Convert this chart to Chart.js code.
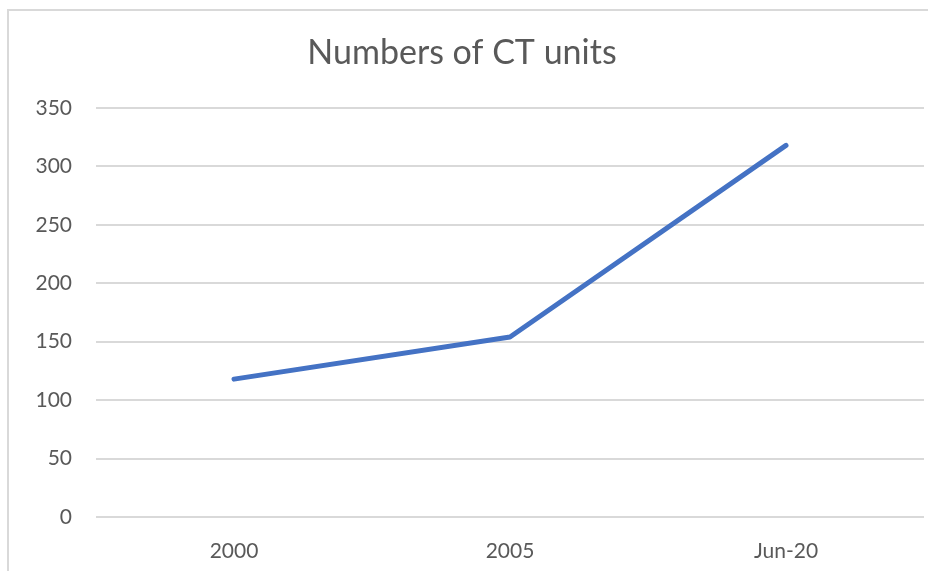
<!DOCTYPE html>
<html>
<head>
<meta charset="utf-8">
<script src="https://cdn.jsdelivr.net/npm/chart.js@4/dist/chart.umd.min.js"></script>
<style>
html,body{margin:0;padding:0;background:#fff;overflow:hidden;}
#wrap{position:absolute;left:0;top:0;width:928px;height:571px;}
#frame{position:absolute;left:7px;top:9px;width:1000px;height:1000px;border:2px solid #d9d9d9;box-sizing:border-box;}
canvas{position:absolute;left:0;top:0;}
</style>
</head>
<body>
<div id="wrap">
<div id="frame"></div>
<canvas id="c" width="928" height="571"></canvas>
</div>
<script>
const titleText = "Numbers of CT units";
const categories = ["2000", "2005", "Jun-20"];
const ctUnits = [118, 154, 318];
const yTicks = [0, 50, 100, 150, 200, 250, 300, 350];

const tickColor = "#595959";
new Chart(document.getElementById("c"), {
  type: "line",
  data: {
    labels: categories,
    datasets: [{
      label: "CT units",
      data: ctUnits,
      borderColor: "#4472C4",
      backgroundColor: "#4472C4",
      borderWidth: 5,
      pointRadius: 0,
      borderCapStyle: "round",
      borderJoinStyle: "round",
      tension: 0,
      fill: false
    }]
  },
  options: {
    responsive: false,
    animation: false,
    layout: { padding: { left: 0, right: 4, top: 0, bottom: 0 } },
    plugins: {
      legend: { display: false },
      tooltip: { enabled: false },
      title: {
        display: true,
        text: titleText,
        color: "#595959",
        font: { family: "Lato", size: 34, weight: "normal", lineHeight: 1.2 },
        padding: { top: 33, bottom: 34.2 }
      }
    },
    scales: {
      x: {
        offset: true,
        grid: { display: false, drawTicks: false },
        border: { display: false },
        ticks: { color: tickColor, font: { family: "Lato", size: 21 }, padding: 22, maxRotation: 0 },
        afterFit: (s) => { s.height = 54; }
      },
      y: {
        min: 0,
        max: 350,
        afterBuildTicks: (s) => { s.ticks = yTicks.map(v => ({ value: v })); },
        grid: { color: "#d9d9d9", lineWidth: 2, drawTicks: false },
        border: { display: false },
        ticks: { color: tickColor, font: { family: "Lato", size: 21 }, padding: 24 },
        afterFit: (s) => { s.width = 96; }
      }
    }
  }
});
</script>
</body>
</html>
